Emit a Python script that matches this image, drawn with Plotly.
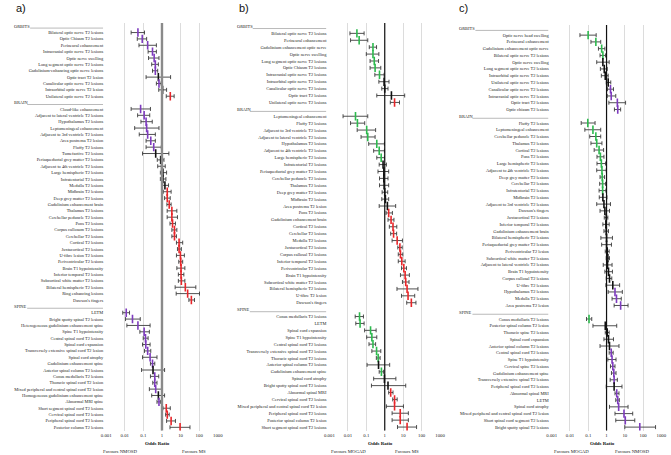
import plotly.graph_objects as go

# ---------------- Panel a) NMOSD vs MS ----------------
A_ORB_LABELS = ["Bilateral optic nerve T2 lesions", "Optic Chiasm T2 lesions", "Perineural enhancement",
                "Intracranial optic nerve T2 lesions", "Optic nerve swelling", "Long segment optic nerve T2 lesions",
                "Gadolinium-enhancing optic nerve lesions", "Optic tract T2 lesion", "Canalicular optic nerve T2 lesions",
                "Intraorbital optic nerve T2 lesion", "Unilateral optic nerve T2 lesions"]
A_ORB_OR = [0.051, 0.087, 0.17, 0.31, 0.38, 0.44, 0.44, 0.64, 0.69, 1.08, 2.8]
A_ORB_LO = [0.022, 0.047, 0.058, 0.18, 0.19, 0.28, 0.31, 0.14, 0.50, 0.67, 1.7]
A_ORB_HI = [0.115, 0.15, 0.50, 0.50, 0.69, 0.64, 0.59, 2.9, 0.89, 1.77, 4.5]

A_BRAIN_LABELS = ["Cloud-like enhancement", "Adjacent to lateral ventricle T2 lesions", "Hypothalamus T2 lesions",
                  "Leptomeningeal enhancement", "Adjacent to 3rd ventricle T2 lesions", "Area postrema T2 lesion",
                  "Fluffy T2 lesions", "Tumefactive T2 lesions", "Periaqueductal grey matter T2 lesions",
                  "Adjacent to 4th ventricle T2 lesions", "Large hemispheric T2 lesions", "Infratentorial T2 lesions",
                  "Medulla T2 lesions", "Midbrain T2 lesions", "Deep grey matter T2 lesions",
                  "Gadolinium enhancement brain", "Thalamus T2 lesions", "Cerebellar peduncle T2 lesions",
                  "Pons T2 lesions", "Corpus callosum T2 lesions", "Cerebellar T2 lesions", "Cortical T2 lesions",
                  "Juxtacortical T2 lesions", "U-fibre lesion T2 lesions", "Periventricular T2 lesions",
                  "Brain T1 hypointensity", "Inferior temporal T2 lesions", "Subcortical white matter T2 lesions",
                  "Bilateral hemispheric T2 lesions", "Ring enhancing lesions", "Dawson's fingers"]
A_BRAIN_OR = [0.071, 0.11, 0.14, 0.15, 0.17, 0.25, 0.36, 0.46, 0.85, 0.96, 1.13, 1.13, 1.44, 1.92, 1.92, 2.45,
              3.4, 3.4, 3.7, 4.7, 4.7, 8.3, 8.3, 9.8, 10.2, 10.6, 10.6, 11, 18, 24, 38]
A_BRAIN_LO = [0.022, 0.049, 0.074, 0.034, 0.06, 0.14, 0.14, 0.09, 0.56, 0.59, 0.82, 0.82, 0.98, 1.18, 1.38, 1.84,
              1.9, 1.9, 2.7, 3.4, 3.4, 6.0, 6.8, 6.0, 8.0, 6.3, 7.6, 7.6, 5.1, 5.8, 28]
A_BRAIN_HI = [0.24, 0.22, 0.30, 0.69, 0.44, 0.44, 0.92, 2.35, 1.28, 1.5, 1.77, 1.63, 2.26, 3.1, 2.77, 3.1,
              6.3, 6.8, 5.3, 6.3, 6.0, 13, 11, 16, 13, 17, 15, 17, 66, 104, 56]

A_SPINE_LABELS = ["LETM", "Bright spotty spinal T2 lesions", "Heterogeneous gadolinium enhancement spine",
                  "Spine T1 hypointensity", "Central spinal cord T2 lesions", "Spinal cord expansion",
                  "Transversely extensive spinal cord T2 lesion", "Spinal cord atrophy",
                  "Gadolinium enhancement spine", "Anterior spinal column T2 lesions", "Conus medullaris T2 lesions",
                  "Thoracic spinal cord T2 lesion", "Mixed peripheral and central spinal cord T2 lesion",
                  "Homogeneous gadolinium enhancement spine", "Abnormal MRI spine",
                  "Short segment spinal cord T2 lesions", "Cervical spinal cord T2 lesions",
                  "Peripheral spinal cord T2 lesions", "Posterior column T2 lesions"]
A_SPINE_OR = [0.012, 0.026, 0.051, 0.11, 0.13, 0.135, 0.17, 0.23, 0.31, 0.33, 0.41, 0.41, 0.46, 0.64, 0.69,
              1.7, 1.92, 3.1, 9.4]
A_SPINE_LO = [0.0078, 0.011, 0.013, 0.065, 0.098, 0.09, 0.115, 0.09, 0.24, 0.08, 0.24, 0.32, 0.21, 0.28, 0.54,
              1.13, 1.57, 1.77, 2.7]
A_SPINE_HI = [0.018, 0.068, 0.23, 0.21, 0.18, 0.23, 0.25, 0.54, 0.41, 1.38, 0.67, 0.54, 0.96, 1.38, 0.85,
              2.8, 2.45, 5.3, 32]

# ---------------- Panel b) MOGAD vs MS ----------------
B_ORB_LABELS = ["Bilateral optic nerve T2 lesions", "Perineural enhancement", "Gadolinium enhancement optic nerve",
                "Optic nerve swelling", "Long segment optic nerve T2 lesions", "Optic Chiasm T2 lesions",
                "Intracranial optic nerve T2 lesions", "Intraorbital optic nerve T2 lesions",
                "Canalicular optic nerve T2 lesions", "Optic tract T2 lesions", "Unilateral optic nerve T2 lesions"]
B_ORB_OR = [0.031, 0.041, 0.23, 0.23, 0.27, 0.30, 0.52, 0.92, 1.0, 2.3, 3.4]
B_ORB_LO = [0.013, 0.014, 0.145, 0.10, 0.16, 0.16, 0.29, 0.48, 0.69, 0.37, 2.0]
B_ORB_HI = [0.076, 0.12, 0.36, 0.48, 0.46, 0.61, 0.92, 1.7, 1.5, 12, 6.3]

B_BRAIN_LABELS = ["Leptomeningeal enhancement", "Fluffy T2 lesions", "Adjacent to 3rd ventricle T2 lesions",
                  "Adjacent to lateral ventricle T2 lesions", "Hypothalamus T2 lesions",
                  "Adjacent to 4th ventricle T2 lesions", "Large hemispheric T2 lesions", "Infratentorial T2 lesions",
                  "Periaqueductal grey matter T2 lesions", "Cerebellar peduncle T2 lesions", "Thalamus T2 lesions",
                  "Deep grey matter T2 lesions", "Midbrain T2 lesions", "Area postrema T2 lesion", "Pons T2 lesions",
                  "Gadolinium enhancement brain", "Cortical T2 lesions", "Cerebellar T2 lesions",
                  "Medulla T2 lesions", "Juxtacortical T2 lesions", "Corpus callosal T2 lesions",
                  "Inferior temporal T2 lesions", "Periventricular T2 lesions", "Brain T1 hypointensity",
                  "Subcortical white matter T2 lesions", "Bilateral hemispheric T2 lesions", "U-fibre T2 lesion",
                  "Dawson's fingers"]
B_BRAIN_OR = [0.026, 0.033, 0.105, 0.12, 0.37, 0.50, 0.64, 0.81, 0.89, 0.89, 0.92, 1.0, 1.08, 1.39, 1.63, 2.2,
              2.8, 3.0, 4.7, 6.6, 7.1, 8.4, 10.8, 12.7, 13.7, 16.2, 18.3, 27.6]
B_BRAIN_LO = [0.0055, 0.014, 0.032, 0.052, 0.135, 0.25, 0.37, 0.50, 0.43, 0.52, 0.52, 0.72, 0.69, 0.5, 1.18, 1.5,
              1.77, 2.1, 2.5, 5.1, 5.4, 5.4, 8.1, 7.1, 9.1, 4.6, 8.1, 15.5]
B_BRAIN_HI = [0.12, 0.082, 0.32, 0.30, 0.96, 0.96, 0.96, 1.23, 1.63, 1.5, 1.63, 1.45, 1.63, 3.9, 2.6, 3.15,
              4.5, 4.4, 9.1, 8.8, 9.5, 12.7, 15, 21.6, 20.7, 63, 42, 49]

B_SPINE_LABELS = ["Conus medullaris T2 lesions", "LETM", "Spinal cord expansion", "Spine T1 hypointensity",
                  "Central spinal cord T2 lesions", "Transversely extensive spinal cord T2 lesions",
                  "Thoracic spinal cord T2 lesions", "Anterior spinal column T2 lesions",
                  "Gadolinium enhancement spine", "Spinal cord atrophy", "Bright spotty spinal cord T2 lesions",
                  "Abnormal spinal MRI", "Cervical spinal cord T2 lesions",
                  "Mixed peripheral and central spinal cord T2 lesion", "Peripheral spinal cord T2 lesions",
                  "Posterior spinal column T2 lesion", "Short segment spinal cord T2 lesions"]
B_SPINE_OR = [0.043, 0.046, 0.17, 0.20, 0.23, 0.36, 0.44, 0.46, 0.66, 0.96, 1.5, 2.1, 3.4, 3.4, 6.9, 6.9, 16.2]
B_SPINE_LO = [0.025, 0.027, 0.081, 0.105, 0.14, 0.20, 0.35, 0.11, 0.50, 0.25, 0.19, 1.63, 2.7, 1.23, 2.5, 2.5, 4.9]
B_SPINE_HI = [0.07, 0.076, 0.34, 0.37, 0.32, 0.61, 0.56, 1.85, 0.85, 4.0, 13.7, 2.8, 4.7, 10.3, 19, 19, 53]

# ---------------- Panel c) MOGAD vs NMOSD ----------------
C_ORB_LABELS = ["Optic nerve head swelling", "Perineural enhancement", "Gadolinium enhancement optic nerve",
                "Bilateral optic nerve T2 lesions", "Optic nerve swelling", "Long segment optic nerve T2 lesions",
                "Intraorbital optic nerve T2 lesions", "Unilateral optic nerve T2 lesions",
                "Canalicular optic nerve T2 lesions", "Intracranial optic nerve T2 lesions",
                "Optic tract T2 lesions", "Optic chiasm T2 lesions"]
C_ORB_OR = [0.098, 0.26, 0.54, 0.63, 0.63, 0.75, 0.85, 1.23, 1.64, 1.8, 3.9, 4.1]
C_ORB_LO = [0.035, 0.14, 0.36, 0.44, 0.29, 0.46, 0.52, 0.96, 1.13, 1.09, 1.34, 2.7]
C_ORB_HI = [0.27, 0.48, 0.81, 0.88, 1.39, 1.09, 1.23, 1.7, 2.4, 3.2, 11, 5.9]

C_BRAIN_LABELS = ["Fluffy T2 lesions", "Leptomeningeal enhancement", "Cerebellar peduncle T2 lesions",
                  "Thalamus T2 lesions", "Cortical T2 lesions", "Pons T2 lesions", "Large hemispheric T2 lesions",
                  "Adjacent to 4th ventricle T2 lesions", "Deep grey matter T2 lesions", "Cerebellar T2 lesions",
                  "Infratentorial T2 lesions", "Midbrain T2 lesions", "Adjacent to 3rd ventricle T2 lesions",
                  "Dawson's fingers", "Juxtacortical T2 lesions", "Inferior temporal T2 lesions",
                  "Gadolinium enhancement brain", "Bilateral hemispheric T2 lesions",
                  "Periaqueductal grey matter T2 lesions", "Periventricular T2 lesion",
                  "Subcortical white matter T2 lesions", "Adjacent to lateral ventricle T2 lesions",
                  "Brain T1 hypointensity", "Corpus callosal T2 lesions", "U-fibre T2 lesions",
                  "Hypothalamus T2 lesions", "Medulla T2 lesions", "Area postrema T2 lesion"]
C_BRAIN_OR = [0.094, 0.18, 0.26, 0.29, 0.39, 0.46, 0.52, 0.56, 0.58, 0.61, 0.61, 0.63, 0.72, 0.81, 0.96, 0.92,
              0.96, 1.0, 1.0, 1.09, 1.18, 1.13, 1.28, 1.45, 2.2, 2.9, 3.5, 5.9]
C_BRAIN_LO = [0.041, 0.065, 0.12, 0.14, 0.21, 0.30, 0.30, 0.29, 0.44, 0.42, 0.39, 0.40, 0.29, 0.44, 0.75, 0.63,
              0.72, 0.49, 0.54, 0.85, 0.96, 0.66, 0.81, 0.96, 0.92, 1.23, 2.0, 2.6]
C_BRAIN_HI = [0.235, 0.48, 0.48, 0.56, 0.69, 0.72, 0.88, 0.96, 0.78, 0.88, 0.92, 1.05, 1.64, 1.45, 1.18, 1.39,
              1.28, 2.1, 1.86, 1.39, 1.45, 2.0, 2.1, 1.94, 5.2, 7.3, 6.4, 15]

C_SPINE_LABELS = ["Conus medullaris T2 lesions", "Posterior spinal column T2 lesion", "Thoracic spine T2 lesions",
                  "Spinal cord expansion", "Anterior spinal column T2 lesions", "Central spinal cord T2 lesions",
                  "Spine T1 hypointensity", "Cervical spine T2 lesions", "Gadolinium enhancement spine",
                  "Transversely extensive spinal T2 lesions", "Peripheral spinal cord T2 lesions",
                  "Abnormal spinal MRI", "LETM", "Spinal cord atrophy",
                  "Mixed peripheral and central spinal cord T2 lesion", "Short spinal cord segment T2 lesions",
                  "Bright spotty spinal T2 lesions"]
C_SPINE_OR = [0.11, 0.85, 1.09, 1.28, 1.45, 1.8, 2.0, 2.2, 2.5, 2.6, 2.6, 3.6, 4.1, 4.6, 9.0, 10.6, 66]
C_SPINE_LO = [0.08, 0.18, 0.85, 0.72, 0.44, 1.39, 1.18, 1.64, 1.86, 1.58, 0.96, 2.9, 3.2, 1.45, 2.9, 3.2, 10]
C_SPINE_HI = [0.155, 3.6, 1.39, 2.4, 4.8, 2.3, 3.3, 2.9, 3.3, 3.9, 7.0, 4.8, 5.0, 15, 27, 35, 480]

SECTION_NAMES = ["ORBITS", "BRAIN", "SPINE"]
TICK_VALS = [0.001, 0.01, 0.1, 1, 10, 100, 1000]
TICK_TEXT = ["0.001", "0.01", "0.1", "1", "10", "100", "1000"]

PURPLE = "#7E3BBE"
RED = "#E8262A"
GREEN = "#2DBA4E"
W, H = 671, 455
SERIF = "Liberation Serif, Times New Roman, serif"

panels = [
    dict(letter="a)", letter_x=9, sections=[(A_ORB_LABELS, A_ORB_OR, A_ORB_LO, A_ORB_HI),
                                            (A_BRAIN_LABELS, A_BRAIN_OR, A_BRAIN_LO, A_BRAIN_HI),
                                            (A_SPINE_LABELS, A_SPINE_OR, A_SPINE_LO, A_SPINE_HI)],
         low=PURPLE, high=RED, favours=("Favours NMOSD", "Favours MS"), fav_x=(117, 192),
         x0=102.7, x1=216.0, top=23.0, bottom=430.5, head_x=7, lab_right=99.5,
         ref_color="#8a8a8a", ref_width=2.4),
    dict(letter="b)", letter_x=236, sections=[(B_ORB_LABELS, B_ORB_OR, B_ORB_LO, B_ORB_HI),
                                             (B_BRAIN_LABELS, B_BRAIN_OR, B_BRAIN_LO, B_BRAIN_HI),
                                             (B_SPINE_LABELS, B_SPINE_OR, B_SPINE_LO, B_SPINE_HI)],
         low=GREEN, high=RED, favours=("Favours MOGAD", "Favours MS"), fav_x=(349, 408),
         x0=329.3, x1=441.7, top=23.0, bottom=430.5, head_x=233, lab_right=326,
         ref_color="#111111", ref_width=1.2),
    dict(letter="c)", letter_x=459, sections=[(C_ORB_LABELS, C_ORB_OR, C_ORB_LO, C_ORB_HI),
                                             (C_BRAIN_LABELS, C_BRAIN_OR, C_BRAIN_LO, C_BRAIN_HI),
                                             (C_SPINE_LABELS, C_SPINE_OR, C_SPINE_LO, C_SPINE_HI)],
         low=GREEN, high=PURPLE, favours=("Favours MOGAD", "Favours NMOSD"), fav_x=(575, 637),
         x0=555.0, x1=666.3, top=25.0, bottom=430.5, head_x=459, lab_right=551.5,
         ref_color="#111111", ref_width=1.2),
]

fig = go.Figure()
annotations = []
shapes = []
layout_axes = {}

for i, p in enumerate(panels):
    n = i + 1
    xa = "x" if n == 1 else f"x{n}"
    ya = "y" if n == 1 else f"y{n}"
    xkey = "xaxis" if n == 1 else f"xaxis{n}"
    ykey = "yaxis" if n == 1 else f"yaxis{n}"

    row = 0
    ys, xs, lo_err, hi_err, cols, tickv, tickt = [], [], [], [], [], [], []
    header_rows = []
    for name, (labels, orv, lov, hiv) in zip(SECTION_NAMES, p["sections"]):
        header_rows.append((name, row))
        row += 1
        for lab, o, l, h in zip(labels, orv, lov, hiv):
            ys.append(row)
            xs.append(o)
            lo_err.append(o - l)
            hi_err.append(h - o)
            if h < 1:
                cols.append(p["low"])
            elif l > 1:
                cols.append(p["high"])
            else:
                cols.append("#111111")
            tickv.append(row)
            tickt.append(lab)
            row += 1
    nrows = row

    fig.add_trace(go.Scatter(
        x=xs, y=ys, mode="markers", xaxis=xa, yaxis=ya, hoverinfo="skip",
        marker=dict(symbol="line-ns", size=6, color=cols, line=dict(color=cols, width=1.6)),
        error_x=dict(type="data", symmetric=False, array=hi_err, arrayminus=lo_err,
                     color="#3c3c3c", thickness=0.9, width=2),
        showlegend=False))

    layout_axes[xkey] = dict(
        type="log", range=[-3, 3], domain=[p["x0"] / W, p["x1"] / W], anchor=ya,
        tickvals=TICK_VALS, ticktext=TICK_TEXT, showgrid=True, gridcolor="#dcdcdc", gridwidth=1,
        showline=False, zeroline=False, ticks="", ticklabelstandoff=1,
        tickfont=dict(family=SERIF, size=4.8, color="#222222"), fixedrange=True)
    layout_axes[ykey] = dict(
        range=[nrows - 0.5, -0.5], domain=[1 - p["bottom"] / H, 1 - p["top"] / H], anchor=xa,
        tickvals=tickv, ticktext=tickt, showgrid=False, zeroline=False, showline=False, ticks="",
        ticklabelstandoff=2, tickfont=dict(family=SERIF, size=4.4, color="#222222"), fixedrange=True)

    # reference line at OR = 1
    shapes.append(dict(type="line", xref=xa, yref=f"{ya} domain", x0=1, x1=1, y0=0, y1=1,
                       line=dict(color=p["ref_color"], width=p["ref_width"]), layer="above"))

    # section headers with underline
    for name, r in header_rows:
        annotations.append(dict(text=name, xref="paper", yref=ya, x=p["head_x"] / W, y=r,
                                xanchor="left", yanchor="middle", showarrow=False,
                                font=dict(family=SERIF, size=4.4, color="#222222")))
        shapes.append(dict(type="line", xref="paper", yref=ya,
                           x0=(p["head_x"] + len(name) * 3.0 + 0.5) / W, x1=p["lab_right"] / W,
                           y0=r + 0.3, y1=r + 0.3, line=dict(color="#8c8c8c", width=0.6)))

    # panel letter
    annotations.append(dict(text=p["letter"], xref="paper", yref="paper", x=p["letter_x"] / W,
                            y=1 - 7.5 / H, xanchor="left", yanchor="middle", showarrow=False,
                            font=dict(family="Liberation Sans, Arial, sans-serif", size=11, color="#111111")))
    # axis title
    cx = (p["x0"] + p["x1"]) / 2 - 4.5
    annotations.append(dict(text="<b>Odds Ratio</b>", xref="paper", yref="paper", x=cx / W, y=1 - 443.5 / H,
                            xanchor="center", yanchor="middle", showarrow=False,
                            font=dict(family=SERIF, size=5, color="#111111")))
    for txt, fx in zip(p["favours"], p["fav_x"]):
        annotations.append(dict(text=txt, xref="paper", yref="paper", x=fx / W, y=1 - 451.5 / H,
                                xanchor="center", yanchor="middle", showarrow=False,
                                font=dict(family=SERIF, size=4.8, color="#222222")))

fig.update_layout(
    width=W, height=H, margin=dict(l=0, r=0, t=0, b=0),
    paper_bgcolor="white", plot_bgcolor="white", showlegend=False,
    annotations=annotations, shapes=shapes, **layout_axes)

fig.write_html("out.html")
